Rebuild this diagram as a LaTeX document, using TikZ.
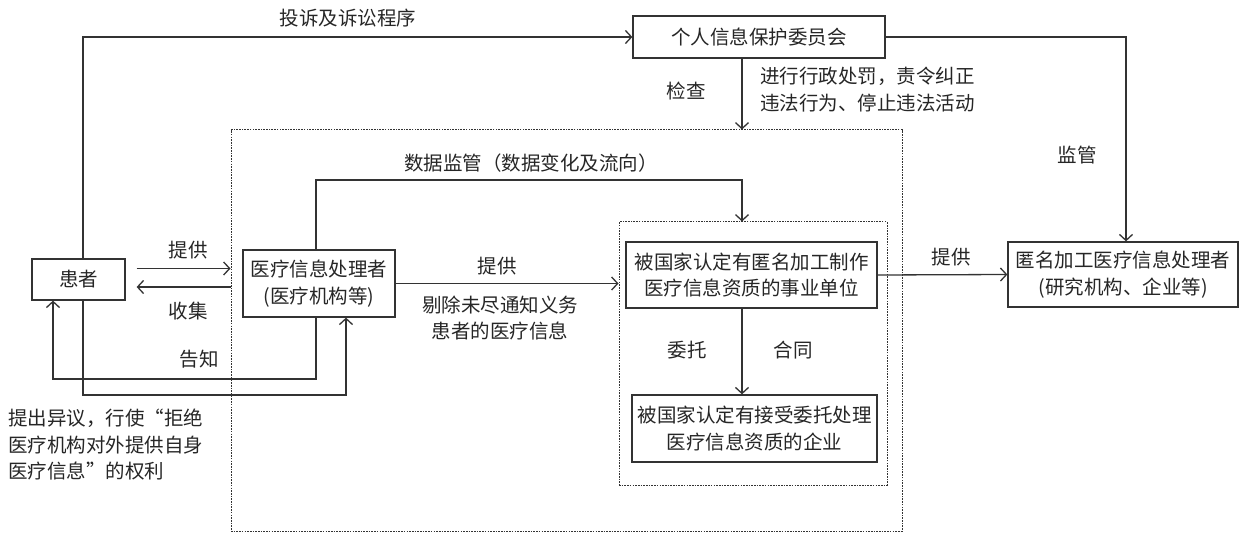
\documentclass[tikz,border=0pt]{standalone}
\usepackage{fontspec}
\setmainfont{Noto Sans CJK SC}
\newfontfamily\cjkfw[RawFeature=+fwid]{Noto Sans CJK SC}
\usetikzlibrary{arrows.meta,calc}
\begin{document}
\begin{tikzpicture}[x=1pt,y=-1pt,
  every node/.style={font=\fontsize{19.5}{26.5}\selectfont, text=black!85},
  box/.style={draw=black!80, line width=1.3pt, align=center, inner sep=0pt},
  frame/.style={draw=black!80, line width=1pt, dash pattern=on 1.6pt off 1.1pt, inner sep=0pt},
  conn/.style={draw=black!80, line width=1.3pt, -{Straight Barb[length=6pt,width=13pt]}},
  lab/.style={inner sep=0pt}]
\useasboundingbox[fill=white] (0,0) rectangle (1245,537);

% boxes
\node[box, minimum width=93pt, minimum height=41pt] (P) at (78.5,279.5) {患者};
\node[box, minimum width=152pt, minimum height=67pt] (M) at (319,283.5) {医疗信息处理者\\(医疗机构等)};
\node[box, minimum width=252pt, minimum height=42pt] (G) at (759,37) {个人信息保护委员会};
\node[frame, minimum width=671pt, minimum height=401pt] (O) at (566.5,330.5) {};
\node[frame, minimum width=268pt, minimum height=263pt] (I) at (753,353.5) {};
\node[box, minimum width=251pt, minimum height=66pt] (A) at (751.5,275) {被国家认定有匿名加工制作\\医疗信息资质的事业单位};
\node[box, minimum width=245pt, minimum height=67pt] (B) at (754.5,428.5) {被国家认定有接受委托处理\\医疗信息资质的企业};
\node[box, minimum width=230pt, minimum height=65pt] (C) at (1123,274.5) {匿名加工医疗信息处理者\\(研究机构、企业等)};

% helper coordinates
\coordinate (x83) at (83,0);
\coordinate (x316) at (316,0);
\coordinate (x742) at (742,0);
\coordinate (x1126) at (1126,0);
\coordinate (y180) at (316,180);
\coordinate (p1) at ($(P.east)+(11,-11)$);
\coordinate (p2) at ($(P.east)+(11,7.5)$);
\coordinate (k) at (53,379);
\coordinate (t) at (346,395);

% connectors
\draw[conn] (x83 |- P.north) |- (G.west);
\draw[conn] (G.east) -| (x1126 |- C.north);
\draw[conn] (x742 |- G.south) -- (x742 |- O.north);
\draw[conn] (x316 |- M.north) -- (y180) -| (x742 |- I.north);
\draw[conn] (p1) -- (p1 -| O.west);
\draw[conn] (p2 -| O.west) -- (p2);
\draw[conn] (x316 |- M.south) |- (k) -- (k |- P.south);
\draw[conn] (x83 |- P.south) |- (t) -- (t |- M.south);
\draw[conn] (M.east) -- (M.east -| I.west);
\draw[conn] (A.east) -- (C.west);
\draw[conn] (x742 |- A.south) -- (x742 |- B.north);

% labels
\node[lab] (l1) at (348,18) {投诉及诉讼程序};
\node[lab] (l2) at (686,91) {检查};
\node[lab, anchor=north west, align=left] (l3) at (760,67) {进行行政处罚，责令纠正\\违法行为、停止违法活动};
\node[lab] (l4) at (1077,155) {监管};
\node[lab] (l5) at (531,163) {数据监管（数据变化及流向）};
\node[lab] (l6) at (188,250) {提供};
\node[lab] (l7) at (188,311) {收集};
\node[lab] (l8) at (199,359) {告知};
\node[lab] (l9) at (497,266) {提供};
\node[lab, align=center] (l10) at (500,318) {剔除未尽通知义务\\患者的医疗信息};
\node[lab] (l11) at (951,257) {提供};
\node[lab] (l12) at (687,350) {委托};
\node[lab] (l13) at (793,350) {合同};
\node[lab, anchor=north west, align=left, font=\cjkfw\fontsize{19.5}{26.5}\selectfont] (l14) at (8,409) {提出异议，行使“拒绝\\医疗机构对外提供自身\\医疗信息”的权利};
\end{tikzpicture}
\end{document}
